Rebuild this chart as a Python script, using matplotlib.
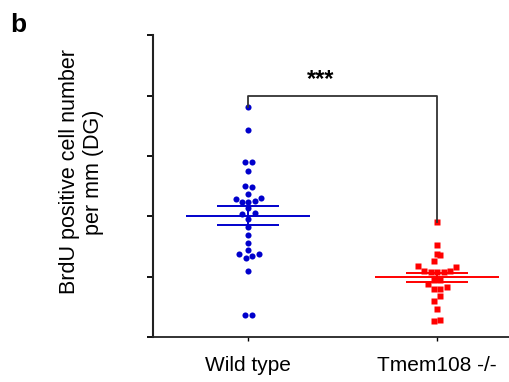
import matplotlib
matplotlib.use("Agg")
import matplotlib.pyplot as plt

plt.rcParams['font.family'] = ['Liberation Sans', 'DejaVu Sans']

# values (arbitrary units, axis 0..50)
groups = ["Wild type", "Tmem108 -/-"]
group_pos = [1, 2]

wt_vals = [38.1, 34.3, 28.9, 28.9, 27.5, 25.0, 24.8, 23.6, 22.8, 22.4, 22.4, 22.6, 23.0,
           21.3, 20.4, 20.5, 19.5, 18.2, 16.9, 15.6, 14.4, 13.7, 13.1, 13.4, 13.7, 10.9,
           3.6, 3.6]
wt_dx = [0, 0, -0.014, 0.021, 0, -0.014, 0.021, 0, -0.064, -0.032, 0, 0.035, 0.07,
         0, -0.032, 0.039, 0, 0, 0, 0, 0, -0.046, -0.012, 0.023, 0.056, 0,
         -0.014, 0.021]
ko_vals = [19.1, 15.3, 13.8, 13.5, 12.6, 11.7, 11.6, 10.9, 10.7, 10.7, 10.8, 11.0,
           9.5, 9.5, 8.7, 8.0, 8.0, 8.2, 6.7, 5.9, 4.7, 2.7, 2.8]
ko_dx = [0, 0, 0, 0.017, -0.017, -0.1, 0.1, -0.067, -0.033, 0, 0.035, 0.069,
         -0.017, 0.017, -0.05, -0.017, 0.017, 0.051, 0.017, -0.017, 0, -0.017, 0.017]

wt_mean, wt_sem = 20.1, 1.6
ko_mean, ko_sem = 9.85, 0.8

blue = "#0000CC"
red = "#FF0000"

fig = plt.figure(figsize=(5.1, 3.82), dpi=100)
ax = fig.add_axes([0.3, 0.118, 0.70, 0.79])

ax.plot([group_pos[0] + d for d in wt_dx], wt_vals, 'o', color=blue, ms=4.4, mec='none')
ax.plot([group_pos[1] + d for d in ko_dx], ko_vals, 's', color=red, ms=3.9, mec='none')

# mean and SEM lines
for x, m, s, c in [(group_pos[0], wt_mean, wt_sem, blue), (group_pos[1], ko_mean, ko_sem, red)]:
    ax.hlines(m, x - 0.33, x + 0.33, color=c, lw=1.4)
    ax.hlines([m - s, m + s], x - 0.165, x + 0.165, color=c, lw=1.4)
    ax.vlines(x, m - s, m + s, color=c, lw=1.4)

# significance bracket
ax.plot([1, 1, 2, 2], [38.1, 40, 40, 19.1], color='#333333', lw=1.3)
ax.text(1.386, 41.5, "***", ha='center', va='baseline', fontsize=17, fontweight='bold')

ax.set_xlim(0.497, 2.386)
ax.set_ylim(0, 50)
ax.set_yticks([0, 10, 20, 30, 40, 50])
ax.set_yticklabels([])
ax.set_xticks(group_pos)
ax.set_xticklabels(groups, fontsize=15)
ax.tick_params(axis='x', length=3, width=1, pad=11)
ax.tick_params(axis='y', length=4, width=1.3)
ax.spines['top'].set_visible(False)
ax.spines['right'].set_visible(False)
ax.spines['left'].set_linewidth(1.5)
ax.spines['bottom'].set_linewidth(1.3)
ax.spines['left'].set_color('#222222')
ax.spines['bottom'].set_color('#222222')

fig.text(0.16, 0.55, "BrdU positive cell number\nper mm (DG)", rotation=90,
         ha='center', va='center', fontsize=15.5, multialignment='center')
fig.text(0.02, 0.965, "b", fontsize=19, fontweight='bold', ha='left', va='top')

fig.savefig("out.png", dpi=100)
